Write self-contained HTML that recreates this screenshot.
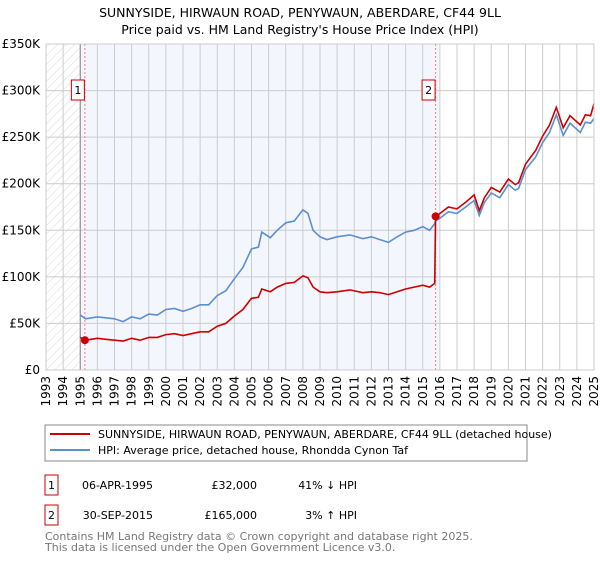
<!DOCTYPE html>
<html><head><meta charset="utf-8"><style>
body{margin:0;background:#fff;font-family:"DejaVu Sans","Liberation Sans",sans-serif;}
svg text{font-family:"DejaVu Sans","Liberation Sans",sans-serif;}
</style></head><body>
<svg id="chart" width="600" height="560" viewBox="0 0 600 560" xmlns="http://www.w3.org/2000/svg">
<defs><pattern id="hatch" width="6" height="6" patternUnits="userSpaceOnUse" patternTransform="rotate(45)"><line x1="0" y1="0" x2="0" y2="6" stroke="#d0d0d0" stroke-width="0.8"/></pattern></defs>
<text x="300" y="17" text-anchor="middle" font-size="12.5" fill="#000">SUNNYSIDE, HIRWAUN ROAD, PENYWAUN, ABERDARE, CF44 9LL</text>
<text x="300" y="34" text-anchor="middle" font-size="12.5" fill="#000">Price paid vs. HM Land Registry's House Price Index (HPI)</text>
<g id="plot"></g>
<rect x="45" y="425" width="482" height="36" fill="#fff" stroke="#888"/>
<line x1="50" y1="434" x2="90" y2="434" stroke="#cc0000" stroke-width="2"/>
<text x="98" y="438" font-size="11">SUNNYSIDE, HIRWAUN ROAD, PENYWAUN, ABERDARE, CF44 9LL (detached house)</text>
<line x1="50" y1="450" x2="90" y2="450" stroke="#5b8fd0" stroke-width="2"/>
<text x="98" y="454" font-size="11">HPI: Average price, detached house, Rhondda Cynon Taf</text>
<g>
<rect x="45" y="475" width="13" height="20" fill="#fff" stroke="#cc0000"/>
<text x="51.5" y="489" text-anchor="middle" font-size="11">1</text>
<text x="153" y="489" text-anchor="end" font-size="11">06-APR-1995</text>
<text x="257" y="489" text-anchor="end" font-size="11">£32,000</text>
<text x="357" y="489" text-anchor="end" font-size="11">41% ↓ HPI</text>
</g>
<g>
<rect x="45" y="505" width="13" height="20" fill="#fff" stroke="#cc0000"/>
<text x="51.5" y="519" text-anchor="middle" font-size="11">2</text>
<text x="153" y="519" text-anchor="end" font-size="11">30-SEP-2015</text>
<text x="257" y="519" text-anchor="end" font-size="11">£165,000</text>
<text x="357" y="519" text-anchor="end" font-size="11">3% ↑ HPI</text>
</g>
<text x="45" y="540" font-size="11" fill="#777">Contains HM Land Registry data © Crown copyright and database right 2025.</text>
<text x="45" y="551" font-size="11" fill="#777">This data is licensed under the Open Government Licence v3.0.</text>
</svg>
<script>
const years=[1995.0,1995.3,1996,1996.5,1997,1997.5,1998,1998.5,1999,1999.5,2000,2000.5,2001,2001.5,2002,2002.5,2003,2003.5,2004,2004.5,2005,2005.4,2005.6,2006.1,2006.5,2007,2007.5,2008,2008.3,2008.6,2009,2009.4,2010,2010.75,2011.5,2012,2012.5,2013,2013.5,2014,2014.5,2015,2015.4,2015.7,2015.75,2016,2016.5,2017,2017.5,2018,2018.3,2018.6,2019,2019.5,2020,2020.4,2020.6,2021,2021.6,2022,2022.4,2022.8,2023.2,2023.6,2024.2,2024.5,2024.8,2025];
const hpiValues=[59,55,57,56,55,52,57,55,60,59,65,66,63,66,70,70,80,85,98,110,130,132,148,142,150,158,160,172,168,150,143,140,143,145,141,143,140,137,143,148,150,154,150,157,160,163,170,168,175,182,166,180,190,185,199,193,195,215,229,244,255,274,252,265,255,266,265,270];
const priceValues=[35,32,34,33,32,31,34,32,35,35,38,39,37,39,41,41,47,50,58,65,77,78,87,84,89,93,94,101,99,89,84,83,84,86,83,84,83,81,84,87,89,91,89,93,165,168,175,173,180,188,171,185,196,191,205,199,201,221,236,251,263,282,260,273,263,274,273,286];
const yTicks=[0,50,100,150,200,250,300,350];
const yTickLabels=["£0","£50K","£100K","£150K","£200K","£250K","£300K","£350K"];
const xTicks=[1993,1994,1995,1996,1997,1998,1999,2000,2001,2002,2003,2004,2005,2006,2007,2008,2009,2010,2011,2012,2013,2014,2015,2016,2017,2018,2019,2020,2021,2022,2023,2024,2025];
const saleYears=[1995.27,2015.75];
const salePrices=[32,165];
const saleLabels=["1","2"];

const X0=46,X1=594,Y0=370,Y1=44;
const xs=y=>X0+(y-1993)/(2025-1993)*(X1-X0);
const ys=v=>Y0-v/350*(Y0-Y1);
const NS="http://www.w3.org/2000/svg";
const plot=document.getElementById('plot');
function mk(tag,attrs,parent){const e=document.createElementNS(NS,tag);for(const k in attrs)e.setAttribute(k,attrs[k]);(parent||plot).appendChild(e);return e;}

let r=mk('rect',{x:X0,y:Y1,width:X1-X0,height:Y0-Y1,fill:'#fff'});


let sh=mk('rect',{x:xs(1995),y:Y1,width:xs(2016)-xs(1995),height:Y0-Y1,fill:'#f3f6fd'});


let ht=mk('rect',{x:X0,y:Y1,width:xs(1995)-X0,height:Y0-Y1,fill:'url(#hatch)'});



xTicks.forEach(t=>{
  let l=mk('line',{x1:xs(t),x2:xs(t),y1:Y1,y2:Y0,stroke:'#ccc','stroke-width':1});
  
  
  let tx=mk('text',{x:0,y:0,'font-size':12,'text-anchor':'end',transform:`translate(${xs(t)+4},${Y0+6}) rotate(-90)`});
  tx.textContent=t;
  
  
});
yTicks.forEach((t,i)=>{
  let l=mk('line',{x1:X0,x2:X1,y1:ys(t),y2:ys(t),stroke:'#ccc','stroke-width':1});
  
  
  let tx=mk('text',{x:40,y:ys(t)+4,'font-size':12,'text-anchor':'end'});
  tx.textContent=yTickLabels[i];
  
  
});
let ax=mk('line',{x1:xs(1995),x2:xs(1995),y1:Y1,y2:Y0,stroke:'#888'});



saleYears.forEach((s,i)=>{
  let l=mk('line',{x1:xs(s),x2:xs(s),y1:Y1,y2:Y0,stroke:'#f08080','stroke-dasharray':'2,2'});
  
  
});

const pts=(v)=>years.map((y,i)=>xs(y).toFixed(1)+','+ys(v[i]).toFixed(1)).join(' ');
let hl=mk('polyline',{points:pts(hpiValues),fill:'none',stroke:'#5b8fd0','stroke-width':1.6});


let pl=mk('polyline',{points:pts(priceValues),fill:'none',stroke:'#cc0000','stroke-width':1.6});



saleYears.forEach((s,i)=>{
  let c=mk('circle',{cx:xs(s),cy:ys(salePrices[i]),r:4,fill:'#cc0000'});
  
  
  let b=mk('rect',{x:xs(s)-13.5,y:80,width:13,height:20,fill:'#fff',stroke:'#cc0000'});
  
  
  let t=mk('text',{x:xs(s)-7,y:94,'font-size':11,'text-anchor':'middle'});
  t.textContent=saleLabels[i];
  
  
});
let br=mk('rect',{x:X0,y:Y1,width:X1-X0,height:Y0-Y1,fill:'none',stroke:'#ccc'});


</script>
</body></html>
